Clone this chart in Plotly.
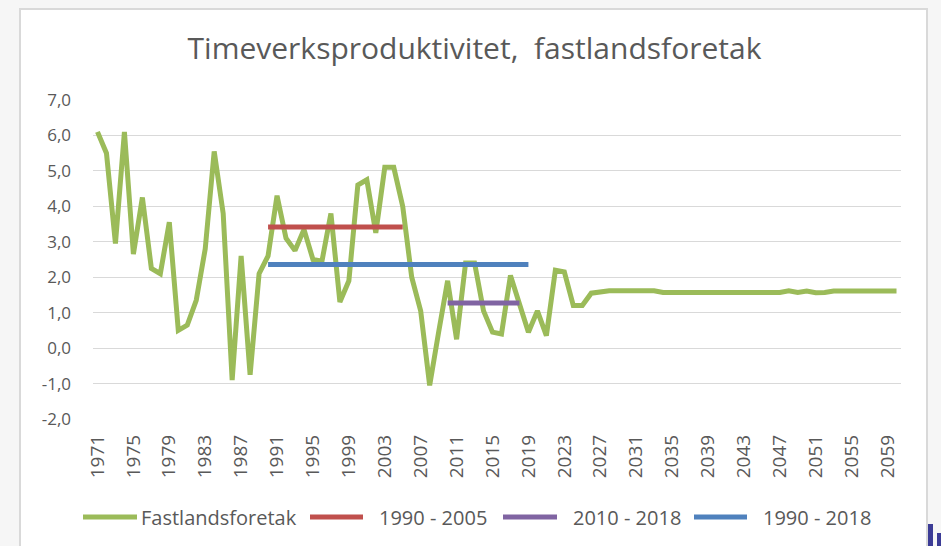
import plotly.graph_objects as go

# ---------------- data ----------------
years = list(range(1971, 2061))
fastland = [
    6.1, 5.5, 2.95, 6.1, 2.65, 4.25, 2.25, 2.1, 3.55, 0.5,      # 1971-1980
    0.65, 1.35, 2.8, 5.55, 3.8, -0.9, 2.6, -0.75, 2.1, 2.6,     # 1981-1990
    4.3, 3.1, 2.75, 3.35, 2.5, 2.45, 3.8, 1.3, 1.9, 4.6,        # 1991-2000
    4.75, 3.25, 5.1, 5.1, 4.0, 2.0, 1.05, -1.05, 0.45, 1.9,     # 2001-2010
    0.25, 2.4, 2.4, 1.05, 0.45, 0.4, 2.05, 1.3, 0.45, 1.05,     # 2011-2020
    0.35, 2.2, 2.15, 1.2, 1.2, 1.55, 1.6, 1.62, 1.62, 1.62,     # 2021-2030
    1.62, 1.62, 1.62, 1.57, 1.57, 1.57, 1.57, 1.57, 1.57, 1.57, # 2031-2040
    1.57, 1.57, 1.57, 1.57, 1.57, 1.57, 1.57, 1.62, 1.57, 1.61, # 2041-2050
    1.56, 1.57, 1.61, 1.61, 1.61, 1.61, 1.61, 1.61, 1.61, 1.61, # 2051-2060
]
avg_1990_2005_years = [1990, 2005]
avg_1990_2005 = [3.42, 3.42]
avg_2010_2018_years = [2010, 2018]
avg_2010_2018 = [1.27, 1.27]
avg_1990_2018_years = [1990, 2019]
avg_1990_2018 = [2.36, 2.36]

series_names = ["Fastlandsforetak", "1990 - 2005", "2010 - 2018", "1990 - 2018"]
series_colors = ["#9bbb59", "#c0504d", "#8064a2", "#4f81bd"]

x_tickvals = list(range(1971, 2060, 4))
x_ticktext = [str(v) for v in x_tickvals]
y_tickvals = [-2, -1, 0, 1, 2, 3, 4, 5, 6, 7]
y_ticktext = ["-2,0", "-1,0", "0,0", "1,0", "2,0", "3,0", "4,0", "5,0", "6,0", "7,0"]

title_text = "Timeverksproduktivitet,\u00a0 fastlandsforetak"

# ---------------- figure ----------------
W, H = 941, 546
L, R, T, B = 93, 40, 100, 127
PW, PH = W - L - R, H - T - B
FONT = "Open Sans"
GREY = "#595959"


def px_x(px):
    return (px - L) / PW


def px_y(py):
    return (H - B - py) / PH


fig = go.Figure()
xs = [years, avg_1990_2005_years, avg_2010_2018_years, avg_1990_2018_years]
ys = [fastland, avg_1990_2005, avg_2010_2018, avg_1990_2018]
for x, y, n, c in zip(xs, ys, series_names, series_colors):
    fig.add_trace(go.Scatter(x=x, y=y, mode="lines", name=n,
                             line=dict(color=c, width=5), showlegend=False,
                             hoverinfo="skip"))

shapes = []
# chart frame
shapes.append(dict(type="rect", xref="paper", yref="paper",
                   x0=px_x(20), x1=px_x(927), y0=px_y(560), y1=px_y(9),
                   fillcolor="white", line=dict(color="#d9d9d9", width=2),
                   layer="below"))
# fragment of neighbouring page element (bottom right)
shapes.append(dict(type="rect", xref="paper", yref="paper",
                   x0=px_x(928), x1=px_x(933), y0=px_y(546), y1=px_y(524),
                   fillcolor="#3c3c96", line=dict(width=0), layer="above"))
shapes.append(dict(type="rect", xref="paper", yref="paper",
                   x0=px_x(937), x1=px_x(941), y0=px_y(546), y1=px_y(533),
                   fillcolor="#3c3c96", line=dict(width=0), layer="above"))

# manual legend
legend_line = [(83, 137), (310, 363), (503, 557), (694, 747)]
legend_text_x = [139, 377, 571, 761]
legend_y = 517
annotations = []
for (a, b), tx, n, c in zip(legend_line, legend_text_x, series_names, series_colors):
    shapes.append(dict(type="line", xref="paper", yref="paper",
                       x0=px_x(a), x1=px_x(b), y0=px_y(legend_y), y1=px_y(legend_y),
                       line=dict(color=c, width=5), layer="above"))
    annotations.append(dict(text=n, xref="paper", yref="paper",
                            x=px_x(tx), y=px_y(legend_y), xanchor="left", yanchor="middle",
                            showarrow=False, font=dict(family=FONT, size=20, color=GREY)))

fig.update_layout(
    width=W, height=H,
    margin=dict(l=L, r=R, t=T, b=B, pad=0),
    paper_bgcolor="#f6f6f6",
    plot_bgcolor="rgba(0,0,0,0)",
    title=dict(text=title_text, xref="container", yref="container",
               x=474.5 / W, y=1 - 48 / H, xanchor="center", yanchor="middle",
               font=dict(family=FONT, size=30, color=GREY)),
    xaxis=dict(range=[1970.5, 2060.5], tickmode="array", tickvals=x_tickvals,
               ticktext=x_ticktext, tickangle=-90, showgrid=False, zeroline=False,
               showline=False, ticks="", ticklabelstandoff=11,
               tickfont=dict(family=FONT, size=19, color=GREY)),
    yaxis=dict(range=[-2, 7], tickmode="array", tickvals=y_tickvals,
               ticktext=y_ticktext, showgrid=True, gridcolor="#d9d9d9", gridwidth=1,
               zeroline=False, showline=False, ticks="", ticklabelstandoff=21,
               tickfont=dict(family=FONT, size=17, color=GREY)),
    shapes=shapes,
    annotations=annotations,
    showlegend=False,
)

fig.write_html("out.html",
               config={"displayModeBar": False},
               post_script="document.body.style.margin='0';document.body.style.overflow='hidden';")
